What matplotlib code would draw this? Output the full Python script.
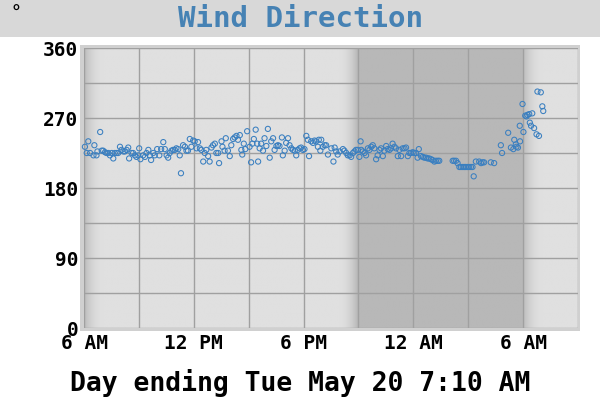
import numpy as np
import matplotlib
matplotlib.use("Agg")
import matplotlib.pyplot as plt
from matplotlib.patches import Rectangle

# ---- data: minutes after 6:00 AM (May 19) and wind direction (degrees) ----
minutes = [3, 9, 14, 20, 31, 34, 41, 44, 53, 58, 63, 69, 74, 80, 85, 91, 96, 101, 107, 112,
           118, 123, 129, 134, 140, 145, 148, 156, 161, 167, 172, 178, 181, 185, 194, 200, 205, 211, 216, 220,
           227, 232, 240, 247, 253, 260, 265, 271, 276, 281, 287, 292, 298, 303, 309, 314, 318, 325, 331, 336,
           341, 347, 352, 358, 363, 369, 374, 380, 385, 391, 396, 401, 407, 412, 418, 423, 429, 434, 440, 443,
           451, 454, 461, 465, 472, 478, 483, 489, 494, 500, 505, 511, 516, 519, 524, 529, 535, 543, 548, 552,
           557, 563, 568, 571, 576, 581, 587, 592, 598, 603, 609, 614, 620, 625, 631, 636, 641, 649, 652, 658,
           663, 669, 674, 680, 685, 691, 696, 701, 707, 712, 718, 723, 729, 734, 738, 745, 751, 756, 761, 767,
           770, 775, 778, 783, 789, 794, 800,
           811, 818, 822, 827, 832, 838, 849, 854, 860, 865, 871, 876, 882, 887, 892, 898, 903, 907, 909, 914,
           920, 925, 931, 936, 942, 947, 952, 958, 963, 969, 974, 980, 985, 991, 996, 1002, 1007, 1012, 1018, 1023,
           1029, 1034, 1040, 1045, 1051, 1056, 1062, 1067, 1072, 1078, 1083, 1089, 1094, 1098, 1105, 1111, 1116, 1122, 1127, 1132,
           1138, 1143, 1149, 1154, 1160, 1165,
           1209, 1214, 1220, 1225, 1231, 1236, 1242, 1247, 1252, 1258, 1263, 1269, 1274, 1278, 1285, 1296, 1302, 1307, 1312,
           1334, 1345,
           1367, 1371, 1391, 1400, 1408, 1411, 1416, 1418, 1423, 1429, 1430, 1438, 1441, 1447, 1451, 1454, 1460, 1462, 1466, 1470,
           1476, 1484, 1487, 1492, 1498, 1503, 1506]
direction = [233, 225, 240, 225, 222, 235, 222, 227, 252, 228, 228, 226, 225, 225, 222, 225, 218, 225, 225, 225,
             233, 229, 227, 227, 229, 232, 218, 225, 225, 222, 220, 222, 231, 217, 222, 220, 225, 229, 222, 216,
             225, 222, 230, 222, 230, 239, 230, 222, 219, 225, 228, 229, 229, 231, 230, 222, 199, 235, 233, 228,
             228, 243, 233, 241, 240, 231, 239, 231, 229, 214, 225, 229, 221, 214, 232, 235, 237, 225, 225, 212,
             240, 233, 228, 244, 228, 221, 235, 243, 245, 247, 242, 248, 229, 223, 237, 230, 253, 233, 213, 237,
             243, 255, 237, 214, 231, 237, 228, 244, 234, 256, 219, 240, 244, 229, 234, 235, 234, 245, 222, 228,
             238, 244, 235, 231, 229, 228, 222, 229, 231, 232, 229, 230, 247, 242, 221, 240, 238, 241, 240, 233,
             242, 228, 242, 233, 235, 235, 223,
             231, 214, 232, 227, 223, 227, 230, 228, 225, 222, 222, 220, 225, 227, 229, 229, 220, 240, 229, 227,
             225, 222, 231, 229, 233, 235, 231, 217, 222, 229, 231, 221, 228, 234, 230, 229, 231, 237, 233, 231,
             221, 229, 221, 231, 231, 232, 221, 225, 225, 226, 225, 225, 219, 230, 221, 220, 219, 219, 218, 218,
             217, 216, 214, 215, 215, 215,
             215, 215, 215, 212, 207, 207, 207, 207, 207, 207, 207, 207, 207, 195, 214, 214, 212, 213, 213,
             213, 212,
             235, 225, 251, 232, 230, 242, 236, 233, 232, 260, 240, 288, 252, 273, 272, 274, 275, 264, 260, 276,
             257, 249, 304, 247, 303, 285, 279]

x_ticks_h = [0, 3, 6, 9, 12, 15, 18, 21, 24, 27]
x_tick_labels = ["6 AM", "", "12 PM", "", "6 PM", "", "12 AM", "", "6 AM", ""]
y_ticks = [0, 45, 90, 135, 180, 225, 270, 315, 360]
y_tick_labels = ["0", "", "90", "", "180", "", "270", "", "360"]

# twilight times (hours after 6 AM)
dusk_start, dusk_end = 13.96, 14.95
dawn_start, dawn_end = 23.95, 25.04

W, H = 600, 400
fig = plt.figure(figsize=(6, 4), dpi=100)
fig.patch.set_facecolor("white")

# title band and plot frame
fig.patches.append(Rectangle((0, 1 - 37 / H), 1, 37 / H, transform=fig.transFigure,
                             facecolor="#d8d8d8", edgecolor="none", zorder=-10))
fig.patches.append(Rectangle((80 / W, (H - 331) / H), 500 / W, 286 / H, transform=fig.transFigure,
                             facecolor="#d0d0d0", edgecolor="none", zorder=-10))

ax = fig.add_axes([84 / W, (H - 328) / H, (578 - 84) / W, (328 - 48) / H])
ax.set_zorder(5)

# day / night background
xs = np.linspace(0, 27, 1400)
dark = np.zeros_like(xs)
f = np.clip((xs - dusk_start) / (dusk_end - dusk_start), 0, 1)
dark = np.maximum(dark, np.where((xs >= dusk_start) & (xs <= dawn_start), f ** 2, 0))
g = np.clip((xs - dawn_start) / (dawn_end - dawn_start), 0, 1)
dark = np.maximum(dark, np.where(xs >= dawn_start, (1 - g) ** 2, 0))
g0 = np.clip((xs - (dawn_start - 24)) / (dawn_end - dawn_start), 0, 1)
dark = np.maximum(dark, np.where(xs < 3, (1 - g0) ** 2, 0))
light, night = 224 / 255, 184 / 255
val = light - (light - night) * dark
img = np.tile(val, (2, 1))
rgb = np.dstack([img, img, img])
ax.imshow(rgb, extent=(0, 27, 0, 360), aspect="auto", zorder=0, interpolation="bilinear")
ax.set_xlim(0, 27)
ax.set_ylim(0, 360)

ax.set_xticks(x_ticks_h)
ax.set_xticklabels(x_tick_labels)
ax.set_yticks(y_ticks)
ax.set_yticklabels(y_tick_labels)
ax.grid(True, color="#a0a0a0", linewidth=1.0, zorder=1)
ax.set_axisbelow(False)
for s in ax.spines.values():
    s.set_visible(False)
ax.tick_params(length=0, labelsize=14, pad=4)
for lab in ax.get_xticklabels() + ax.get_yticklabels():
    lab.set_fontfamily("DejaVu Sans Mono")
    lab.set_fontweight("bold")

hours = np.array(minutes) / 60.0
ax.scatter(hours, direction, s=14, facecolors="none", edgecolors="#3a7fc0",
           linewidths=0.75, zorder=3, clip_on=False)

fig.text(0.5, 1 - 19 / H, "Wind Direction", ha="center", va="center",
         fontsize=21, fontweight="bold", family="DejaVu Sans Mono", color="#4682b4")
fig.text(16 / W, 1 - 14 / H, "°", ha="center", va="center",
         fontsize=13, fontweight="bold", family="DejaVu Sans Mono", color="black")
fig.text(0.5, 17 / H, "Day ending Tue May 20 7:10 AM", ha="center", va="center",
         fontsize=19, fontweight="bold", family="DejaVu Sans Mono", color="black")

fig.savefig("out.png", dpi=100)
